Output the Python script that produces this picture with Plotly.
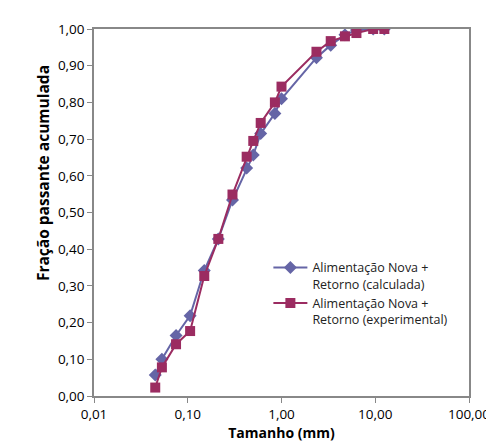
import plotly.graph_objects as go

# sieve sizes (mm) and cumulative passing fractions
tamanho = [0.045, 0.053, 0.075, 0.106, 0.150, 0.212, 0.300, 0.425, 0.500, 0.600,
           0.850, 1.00, 2.36, 3.35, 4.75, 6.30, 9.50, 12.5]
calculada = [0.057, 0.100, 0.165, 0.219, 0.342, 0.428, 0.534, 0.621, 0.657, 0.715,
             0.770, 0.810, 0.922, 0.956, 0.984, 0.997, 1.000, 1.000]
experimental = [0.023, 0.078, 0.141, 0.177, 0.327, 0.428, 0.549, 0.652, 0.695, 0.744,
                0.800, 0.843, 0.938, 0.967, 0.980, 0.989, 1.000, 1.000]

x_ticks = [0.01, 0.1, 1, 10, 100]
y_ticks = [i / 10 for i in range(11)]

BLUE = "#6565A6"
MAGENTA = "#9B2C61"
FONT = "Open Sans"

fig = go.Figure()
fig.add_trace(
    go.Scatter(
        x=tamanho,
        y=calculada,
        name="Alimentação Nova +<br>Retorno (calculada)",
        mode="lines+markers",
        line=dict(color=BLUE, width=2),
        marker=dict(symbol="diamond", size=10, color=BLUE),
    )
)
fig.add_trace(
    go.Scatter(
        x=tamanho,
        y=experimental,
        name="Alimentação Nova +<br>Retorno (experimental)",
        mode="lines+markers",
        line=dict(color=MAGENTA, width=2),
        marker=dict(symbol="square", size=10, color=MAGENTA),
    )
)

fig.update_layout(
    width=494,
    height=447,
    margin=dict(l=86, r=25, t=17, b=59),
    paper_bgcolor="white",
    plot_bgcolor="white",
    separators=", ",
    font=dict(family=FONT, size=13.5, color="black"),
    showlegend=True,
    legend=dict(
        x=0.465,
        y=0.39,
        xanchor="left",
        yanchor="top",
        valign="top",
        bgcolor="rgba(0,0,0,0)",
        font=dict(size=12.5, color="#222"),
        tracegroupgap=16,
        itemwidth=34,
    ),
)
# y title placed like the original (sits above the axis centre)
fig.add_annotation(
    text="<b>Fração passante acumulada</b>",
    xref="paper",
    yref="paper",
    x=-0.172,
    y=0.606,
    textangle=-90,
    showarrow=False,
    font=dict(size=15.5),
)
fig.update_xaxes(
    type="log",
    range=[-2, 2],
    tickvals=x_ticks,
    tickformat=".2f",
    ticks="outside",
    ticklen=5,
    tickcolor="#888",
    showline=True,
    linecolor="#888",
    linewidth=1.5,
    mirror=True,
    showgrid=False,
    zeroline=False,
    title=dict(text="<b>Tamanho (mm)</b>", font=dict(size=14), standoff=6),
)
fig.update_yaxes(
    range=[0, 1],
    tickvals=y_ticks,
    tickformat=".2f",
    ticks="outside",
    ticklen=5,
    tickcolor="#888",
    showline=True,
    linecolor="#888",
    linewidth=1.5,
    mirror=True,
    showgrid=False,
    zeroline=False,
)

fig.write_html("out.html")
